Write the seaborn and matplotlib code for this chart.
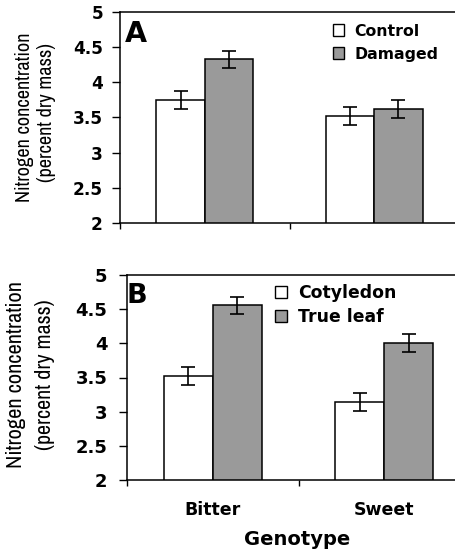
import numpy as np
import pandas as pd
import seaborn as sns
import matplotlib
import matplotlib.pyplot as plt
from matplotlib.patches import Patch

# ---- data ----
genotypes = ["Bitter", "Sweet"]
yticks = [2, 2.5, 3, 3.5, 4, 4.5, 5]

a_groups = ["Control", "Damaged"]
a_control = [3.75, 3.52]
a_damaged = [4.33, 3.62]
a_control_se = [0.125, 0.125]
a_damaged_se = [0.12, 0.13]

b_groups = ["Cotyledon", "True leaf"]
b_cotyledon = [3.52, 3.14]
b_trueleaf = [4.56, 4.00]
b_cotyledon_se = [0.13, 0.13]
b_trueleaf_se = [0.125, 0.13]

colors = ["white", "#9a9a9a"]

sns.set_theme(style="ticks")
plt.rcParams['font.family'] = ['DejaVu Sans']
plt.rcParams['font.weight'] = 'bold'
plt.rcParams['text.color'] = 'black'
plt.rcParams['xtick.color'] = 'black'
plt.rcParams['ytick.color'] = 'black'
plt.rcParams['axes.labelcolor'] = 'black'

W, H = 456, 552
fig = plt.figure(figsize=(W / 100, H / 100), dpi=100)
axA = fig.add_axes([120 / W, 1 - 223 / H, 339 / W, 211 / H])
axB = fig.add_axes([127 / W, 1 - 480 / H, 343 / W, 205 / H])


def panel(ax, groups, v1, v2, e1, e2, show_x, tfs, ypad):
    df = pd.DataFrame({
        "Genotype": genotypes * 2,
        "group": [groups[0]] * 2 + [groups[1]] * 2,
        "value": v1 + v2,
        "se": e1 + e2,
    })
    sns.barplot(data=df, x="Genotype", y="value", hue="group",
                order=genotypes, hue_order=groups, palette=colors,
                edgecolor="black", linewidth=1.1, width=0.57, gap=0,
                errorbar=None, saturation=1, ax=ax, legend=False)
    for p, (_, row) in zip(ax.patches, df.iterrows()):
        xc = p.get_x() + p.get_width() / 2
        ax.errorbar(xc, row["value"], yerr=row["se"], fmt="none",
                    ecolor="black", elinewidth=1.2, capsize=4.7,
                    capthick=1.2, zorder=5)
    ax.set_ylim(2, 5)
    ax.set_xlim(-0.5, 1.5)
    ax.set_yticks(yticks)
    ax.set_yticklabels(["%g" % t for t in yticks], fontsize=tfs, fontweight="bold")
    ax.set_xticks([0, 1])
    ax.set_xticks([-0.5, 0.5, 1.5], minor=True)
    ax.tick_params(axis="x", which="major", length=0, pad=15)
    ax.tick_params(axis="x", which="minor", length=4, width=1, direction="out")
    ax.tick_params(axis="y", length=5.8, width=1, direction="out", pad=ypad)
    if show_x:
        ax.set_xticklabels(genotypes, fontsize=12.5, fontweight="bold")
    else:
        ax.set_xticklabels([])
    ax.set_xlabel("")
    ax.set_ylabel("")
    for s in ax.spines.values():
        s.set_visible(True)
        s.set_linewidth(1.1)
        s.set_color("black")
    ax.set_facecolor("white")


panel(axA, a_groups, a_control, a_damaged, a_control_se, a_damaged_se, False, 12.2, 6.5)
panel(axB, b_groups, b_cotyledon, b_trueleaf, b_cotyledon_se, b_trueleaf_se, True, 13, 8.3)

renderer = fig.canvas.get_renderer()

# legends, aligned to reference text positions (left x, row centres in px from top)
for ax, groups, tx, c1, c2, fs in [(axA, a_groups, 354, 31, 54, 11.3),
                                   (axB, b_groups, 298, 293, 317, 12.4)]:
    handles = [Patch(facecolor=c, edgecolor="black", linewidth=1) for c in colors]
    ls = 0.3
    x0, y0 = tx - 27, c1 - 10
    for _ in range(3):
        leg = ax.legend(handles, groups, loc="upper left",
                        bbox_to_anchor=(x0 / W, 1 - y0 / H),
                        bbox_transform=fig.transFigure,
                        frameon=False, fontsize=fs, handlelength=0.72,
                        handleheight=0.72, handletextpad=0.62,
                        labelspacing=ls, borderpad=0, borderaxespad=0,
                        prop={"weight": "bold", "size": fs})
        fig.canvas.draw()
        t1, t2 = [t.get_window_extent(renderer) for t in leg.get_texts()]
        y1 = H - (t1.y0 + t1.y1) / 2
        y2 = H - (t2.y0 + t2.y1) / 2
        x0 += tx - t1.x0
        y0 += c1 - y1
        fs_px = fs * 100 / 72
        ls += ((c2 - c1) - (y2 - y1)) / fs_px

# panel letters
fig.text(125 / W, 1 - 42 / H, "A", fontsize=20.5, fontweight="bold", ha="left", va="baseline")
fig.text(127 / W, 1 - 303 / H, "B", fontsize=19.5, fontweight="bold", ha="left", va="baseline")

# y labels (two lines each), condensed face sized to the reference's length
narrow = ['Liberation Sans Narrow', 'Arial Narrow', 'Archivo Narrow',
          'PT Sans Narrow', 'Roboto Condensed', 'Liberation Sans', 'DejaVu Sans']
for x, yc, s, length in [(25, 117, "Nitrogen concentration", 169),
                         (47, 113, "(percent dry mass)", 139),
                         (16, 375, "Nitrogen concentration", 186),
                         (45, 375, "(percent dry mass)", 150)]:
    t = fig.text(x / W, 1 - yc / H, s, rotation=90, ha="center", va="center",
                 fontsize=14, family=narrow, fontweight="normal")
    bb = t.get_window_extent(renderer)
    t.set_fontsize(14 * length / bb.height)

# x axis title
fig.text(297 / W, 1 - 545 / H, "Genotype", fontsize=14, fontweight="bold",
         ha="center", va="baseline")

fig.savefig("out.png", dpi=100, facecolor="white")
